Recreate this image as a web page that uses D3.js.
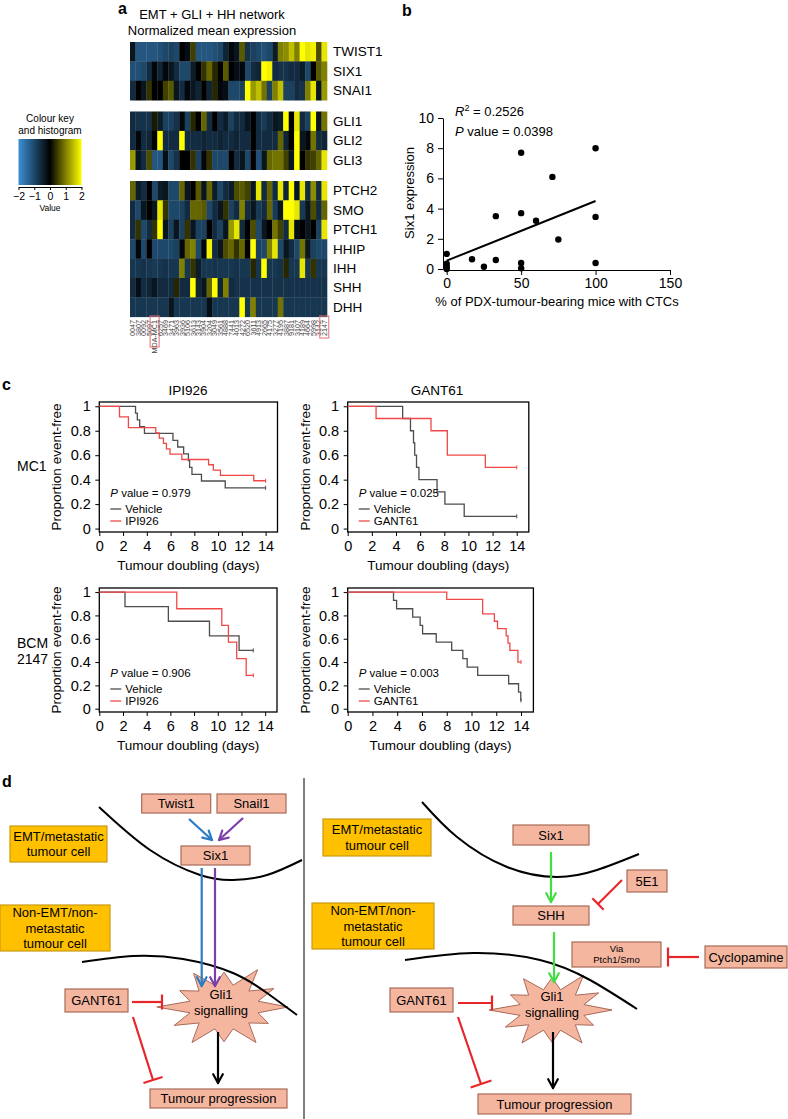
<!DOCTYPE html>
<html><head><meta charset="utf-8">
<script src="https://cdn.jsdelivr.net/npm/d3@7"></script>
<style>body{margin:0;background:#fff}svg{display:block}text{font-family:"Liberation Sans",Arial,Helvetica,sans-serif}</style>
</head><body><svg id="c" width="788" height="1119"></svg>
<script>
// ---------------- DATA ----------------
const genes = ["TWIST1","SIX1","SNAI1","GLI1","GLI2","GLI3","PTCH2","SMO","PTCH1","HHIP","IHH","SHH","DHH"];
const geneBlock = [0,0,0,1,1,1,2,2,2,2,2,2,2];
const samples = ["0047","3807","0092","5097","MDA-MC1","6257","3469","3471","3963","3936","5106","3613","3143","3904","3204","3049","3561","4888","7441","4013","4272","6520","3611","4913","2665","4175","3277","4195","3887","9181","3107","4189","4664","5998","3142","2147"];
const boxedSamples = ["MDA-MC1","2147"];
const exprTWIST1 = [-0.3,-1.2,-1.2,-1.2,-1.2,-1.1,-1.0,-0.9,-1.0,0,-0.2,0.5,-1.2,-1.2,-1.2,-1.1,-1.0,-0.5,-0.1,-0.3,0.7,-0.7,-0.9,-1.0,-1.1,-1.0,-0.4,1.0,1.1,1.5,1.0,2,1.8,1.9,0.6,1.8];
const exprSIX1 = [-1.1,-1.1,-1.0,-0.6,-0.1,-0.5,-0.1,-0.3,-0.6,-1.0,-1.0,-0.4,0,0.4,0.8,0.3,0,0.7,0,-0.2,-0.1,-1.0,-0.6,-0.5,2,1.9,-0.6,-0.7,-0.7,-0.6,-0.6,-0.4,-1.0,0,0.7,1.0];
const exprSNAI1 = [-0.6,0,-0.3,0.4,0,0,0.5,0.7,-0.3,-0.6,-0.1,-0.3,-0.5,0,-0.5,0.3,-0.1,-0.2,-1.0,-1.0,-0.9,2,1.2,1.5,0.9,-0.9,1.0,1.5,-0.9,-0.9,-0.6,-0.7,1.0,1.8,-0.3,1.2];
const exprGLI1 = [-0.6,-0.7,-0.7,-0.7,0.2,-0.4,-0.9,-0.9,-0.7,-0.1,-0.9,0.3,0,0.8,-0.6,0,-0.6,-0.4,-0.9,-0.6,-0.6,-0.3,0,-0.6,-0.8,-0.6,-0.3,-0.4,2,0,1.8,-0.6,-0.9,2,-0.3,0.9];
const exprGLI2 = [-0.6,-0.1,-0.6,-0.5,0,2,-0.6,-0.6,-0.6,2,-0.6,-0.6,-0.6,-0.5,-0.6,-0.6,-0.5,-0.6,-0.6,-0.5,-0.6,-0.6,0,-0.6,-0.6,-0.6,-0.6,0.8,-0.5,0,2,-0.3,-0.1,0.9,-0.6,-0.5];
const exprGLI3 = [1.2,-0.3,-0.6,0.6,-1.2,-1.2,-0.2,-1.0,-0.7,0,0,0.4,-0.9,-0.1,0.4,-1.0,-1.0,-1.0,0,-0.6,-0.3,-1.0,0,-1.1,-0.3,0.8,0.9,0.9,0.5,-0.3,2,0,0.4,0.5,0.8,1.8];
const exprPTCH2 = [0.8,-0.4,-0.6,0,-1.0,-0.4,-0.3,-1.0,-1.0,0.8,-0.3,0,0.7,-0.3,0.8,-0.4,-1.0,-0.6,-0.4,0.6,0.7,0.5,-0.3,1.8,-0.6,0.8,-0.6,1.8,-0.5,2,-0.3,1.8,-0.6,1.1,-0.6,1.8];
const exprSMO = [-0.6,-1.0,-0.3,0,-0.3,1.8,0.4,-1.0,-1.0,-0.9,-0.6,0.8,0.8,0.7,-1.0,-0.6,-0.3,0.4,-0.9,-0.6,1.0,-0.6,-0.3,-0.8,-0.6,0.8,-0.8,-0.3,2,2,1.8,-0.8,-0.3,0.6,-0.6,0.8];
const exprPTCH1 = [-0.6,0.4,-1.0,-0.6,0.4,2,-0.3,-0.9,-0.3,-0.9,0.4,-0.3,-0.9,-0.9,0,-0.6,-0.9,-0.3,1.2,1.8,-0.6,0,0.6,-1.0,-0.3,0,0.9,0.5,-0.6,1.8,-0.2,0,-0.3,0,-0.9,1.8];
const exprHHIP = [-1.0,-0.1,-1.0,0,-1.0,-1.0,-1.0,-1.0,-0.9,-0.1,0.8,1.0,-1.0,-0.1,1.9,-0.6,-0.3,0.6,0.8,0.4,0.8,0,2,-0.9,-1.0,1.0,1.8,-1.0,-0.3,-0.6,-1.0,0.9,-0.3,-0.9,-1.0,-1.0];
const exprIHH = [-0.75,-0.75,-0.7,-0.75,-0.8,-0.75,-0.7,-0.75,-0.75,1.0,-0.75,0.4,-0.4,-0.75,-0.75,-0.7,-0.75,-0.75,-0.75,-0.7,-0.75,-0.75,0.3,-0.75,2,-0.75,-0.75,-0.7,0.3,-0.75,-0.75,1.8,-0.75,0.4,-0.75,-0.75];
const exprSHH = [-0.6,-0.2,-0.6,-0.5,-0.3,-0.6,-0.6,-0.6,0.3,-0.6,-0.6,2,-0.5,-0.3,0.8,2,-0.5,1.0,-0.6,-0.7,-0.7,-0.7,-0.7,-0.7,-0.7,-0.7,-0.7,-0.7,-0.7,-0.7,-0.7,-0.7,-0.7,-0.7,-0.7,-0.7];
const exprDHH = [-0.75,-0.75,-0.75,-0.75,-0.75,-0.75,-0.75,-0.3,-0.75,-0.75,-0.75,-0.75,-0.75,-0.75,-0.2,-0.75,-0.75,-0.75,-0.75,-0.75,2,-0.75,1.0,-0.75,-0.75,-0.75,-0.75,0.9,-0.75,-0.75,-0.75,-0.75,-0.75,-0.75,-0.75,-0.75];
const keyTicks = [-2,-1,0,1,2];

// panel b
const ctcPct = [0,0,0,0,17,25,33,33,50,50,50,50,60,71,75,100,100,100];
const six1Expr = [1.0,0.35,0.15,0.0,0.65,0.15,3.5,0.6,7.7,3.7,0.4,0.05,3.2,6.1,1.95,8.0,3.45,0.4];
const fitX = [0,100];
const fitY = [0.55,4.5];
const scatterXTicks = [0,50,100,150];
const scatterYTicks = [0,2,4,6,8,10];

// panel c (Kaplan-Meier steps)
const kmXTicks = [0,2,4,6,8,10,12,14];
const kmYTicks = [0,0.2,0.4,0.6,0.8,1];
const mc1IpiVehT = [0,3.05,3.2,3.4,3.8,6.2,6.6,7.1,7.5,7.6,7.8,8.6,10.6];
const mc1IpiVehS = [1,0.944,0.889,0.833,0.778,0.722,0.667,0.611,0.556,0.5,0.444,0.389,0.333];
const mc1IpiTrtT = [0,1.7,2.45,4.75,5.05,5.4,5.65,5.95,6.95,9.2,9.6,10.2,13.0];
const mc1IpiTrtS = [1,0.913,0.826,0.783,0.739,0.696,0.652,0.609,0.565,0.522,0.478,0.435,0.391];
const mc1GantVehT = [0,4.55,5.2,5.45,5.55,5.7,5.9,7.4,8.05,9.65];
const mc1GantVehS = [1,0.9,0.8,0.7,0.6,0.5,0.4,0.3,0.2,0.1];
const mc1GantTrtT = [0,2.35,6.9,8.25,11.4];
const mc1GantTrtS = [1,0.9,0.8,0.6,0.5];
const bcmIpiVehT = [0,2.17,5.83,9.3,11.8];
const bcmIpiVehS = [1,0.875,0.75,0.625,0.5];
const bcmIpiTrtT = [0,6.54,10.34,10.9,11.6,12.4];
const bcmIpiTrtS = [1,0.857,0.714,0.571,0.429,0.286];
const bcmGantVehT = [0,3.7,3.95,5.25,5.85,6.05,7.15,8.4,9.3,9.65,10.5,13.0,13.8,13.98];
const bcmGantVehS = [1,0.929,0.857,0.786,0.714,0.643,0.571,0.5,0.429,0.357,0.286,0.214,0.143,0.071];
const bcmGantTrtT = [0,8.0,10.9,11.85,12.1,12.8,12.95,13.1,13.75];
const bcmGantTrtS = [1,0.9375,0.8125,0.75,0.6875,0.625,0.5625,0.5,0.4];
const kmPValues = ["0.979","0.025","0.906","0.003"];

// ---------------- DRAW ----------------
const svg = d3.select("#c");
const PINK_FILL = "#f5b6a0", PINK_STROKE = "#a86a58";

function txt(g, x, y, s, size, opts = {}) {
  const t = g.append("text").attr("x", x).attr("y", y).attr("font-size", size)
    .attr("text-anchor", opts.anchor || "start").attr("fill", opts.fill || "#000");
  if (opts.weight) t.attr("font-weight", opts.weight);
  if (opts.style) t.attr("font-style", opts.style);
  t.text(s);
  return t;
}
// panel letters
txt(svg, 118, 14, "a", 16, {weight: "bold"});
txt(svg, 402, 16, "b", 16, {weight: "bold"});
txt(svg, 2, 390, "c", 16, {weight: "bold"});
txt(svg, 2, 787, "d", 16, {weight: "bold"});

// ---- Panel a heatmap ----
const expr = [exprTWIST1, exprSIX1, exprSNAI1, exprGLI1, exprGLI2, exprGLI3, exprPTCH2, exprSMO, exprPTCH1, exprHHIP, exprIHH, exprSHH, exprDHH];
const colour = d3.scaleLinear().domain([-2, 0, 2]).range(["#3c90d4", "#000000", "#ffff00"]).clamp(true);
const hx = d3.scaleBand().domain(samples).range([130, 327]);
const rowH = 19.4, blockGap = 11.3, hTop = 42;
const hy = (i) => hTop + i * rowH + geneBlock[i] * blockGap;
const ga = svg.append("g");
txt(ga, 212, 19, "EMT + GLI + HH network", 13, {anchor: "middle"});
txt(ga, 212, 35, "Normalized mean expression", 13, {anchor: "middle"});
genes.forEach((gname, i) => {
  ga.selectAll(null).data(expr[i]).enter().append("rect")
    .attr("x", (d, j) => hx(samples[j])).attr("y", hy(i))
    .attr("width", hx.bandwidth() + 0.3).attr("height", rowH + 0.3)
    .attr("fill", d => colour(d));
  txt(ga, 333, hy(i) + rowH / 2 + 4.7, gname, 13.5);
});
// sample labels
samples.forEach(s => {
  const cx = hx(s) + hx.bandwidth() / 2;
  ga.append("text").attr("transform", `translate(${cx + 2.6},320) rotate(-90)`)
    .attr("font-size", 7.2).attr("text-anchor", "end").attr("fill", "#444").text(s);
  if (boxedSamples.includes(s)) {
    const h = s.length > 4 ? 31 : 22;
    ga.append("rect").attr("x", cx - 4.5).attr("y", 316).attr("width", 9).attr("height", h)
      .attr("fill", "none").attr("stroke", "#e87070").attr("stroke-width", 1);
  }
});
// colour key
txt(ga, 50, 122, "Colour key", 10, {anchor: "middle"});
txt(ga, 50, 134, "and histogram", 10, {anchor: "middle"});
const defs = svg.append("defs");
const grad = defs.append("linearGradient").attr("id", "kg");
const kx = d3.scaleLinear().domain([-2, 2]).range([18.5, 81.5]);
d3.range(-2, 2.01, 0.25).forEach(v => grad.append("stop").attr("offset", (v + 2) / 4).attr("stop-color", colour(v)));
ga.append("rect").attr("x", kx(-2)).attr("y", 139).attr("width", kx(2) - kx(-2)).attr("height", 46).attr("fill", "url(#kg)");
const kAxis = ga.append("g").attr("transform", "translate(0,187)")
  .call(d3.axisBottom(kx).tickValues(keyTicks).tickSize(3).tickSizeOuter(0).tickFormat(d => d < 0 ? "\u2212" + Math.abs(d) : d));
kAxis.selectAll("text").attr("font-size", 10.5).attr("fill", "#000").attr("y", 13).attr("dy", 0);
kAxis.selectAll("line,path").attr("stroke", "#000");
txt(ga, 50, 211, "Value", 8.5, {anchor: "middle"});

// ---- Panel b scatter ----
const gb = svg.append("g");
const sx = d3.scaleLinear().domain([0, 150]).range([446.7, 670]);
const sy = d3.scaleLinear().domain([0, 10]).range([269, 118]);
const yAx = gb.append("g").attr("transform", "translate(443,0)")
  .call(d3.axisLeft(sy).tickValues(scatterYTicks).tickSize(5).tickSizeOuter(0));
const xAx = gb.append("g").attr("transform", "translate(0,270)")
  .call(d3.axisBottom(sx).tickValues(scatterXTicks).tickSize(5).tickSizeOuter(0));
[yAx, xAx].forEach(a => { a.selectAll("text").attr("font-size", 14).attr("fill", "#000"); a.selectAll("line,path").attr("stroke", "#000"); });
yAx.selectAll("text").attr("dx", "-1");
gb.selectAll(null).data(ctcPct).enter().append("circle")
  .attr("cx", d => sx(d)).attr("cy", (d, i) => sy(six1Expr[i])).attr("r", 3.2).attr("fill", "#000");
gb.append("line").attr("x1", sx(fitX[0])).attr("y1", sy(fitY[0])).attr("x2", sx(fitX[1])).attr("y2", sy(fitY[1]))
  .attr("stroke", "#000").attr("stroke-width", 2);
const r2 = gb.append("text").attr("x", 455).attr("y", 116).attr("font-size", 13);
r2.append("tspan").attr("font-style", "italic").text("R");
r2.append("tspan").attr("font-size", 9).attr("dy", -5).text("2");
r2.append("tspan").attr("dy", 5).text(" = 0.2526");
const pv = gb.append("text").attr("x", 455).attr("y", 136).attr("font-size", 13);
pv.append("tspan").attr("font-style", "italic").text("P");
pv.append("tspan").text(" value = 0.0398");
gb.append("text").attr("transform", "translate(414,193) rotate(-90)").attr("font-size", 13).attr("text-anchor", "middle").text("Six1 expression");
txt(gb, 557, 306, "% of PDX-tumour-bearing mice with CTCs", 13, {anchor: "middle"});

// ---- Panel c KM ----
const gc = svg.append("g");
const kmPanels = [
  {left: 99.3, right: 277.5, top: 402, bottom: 532, veh: [mc1IpiVehT, mc1IpiVehS], trt: [mc1IpiTrtT, mc1IpiTrtS], end: 14, drug: "IPI926"},
  {left: 347.7, right: 528.8, top: 402, bottom: 532, veh: [mc1GantVehT, mc1GantVehS], trt: [mc1GantTrtT, mc1GantTrtS], end: 14, drug: "GANT61"},
  {left: 99.3, right: 277, top: 588, bottom: 712, veh: [bcmIpiVehT, bcmIpiVehS], trt: [bcmIpiTrtT, bcmIpiTrtS], end: 13.0, drug: "IPI926"},
  {left: 347.7, right: 533.4, top: 588, bottom: 712, veh: [bcmGantVehT, bcmGantVehS], trt: [bcmGantTrtT, bcmGantTrtS], end: 14, drug: "GANT61"}
];
const VEH = "#4d4d4d", TRT = "#f04848";
kmPanels.forEach((p, k) => {
  const g = gc.append("g");
  const x = d3.scaleLinear().domain([0, 15]).range([p.left, p.right]);
  const y = d3.scaleLinear().domain([-0.028, 1.035]).range([p.bottom, p.top]);
  const ya = g.append("g").attr("transform", `translate(${p.left},0)`)
    .call(d3.axisLeft(y).tickValues(kmYTicks).tickSize(4).tickFormat(d => d3.format("~g")(d)));
  const xa = g.append("g").attr("transform", `translate(0,${p.bottom})`)
    .call(d3.axisBottom(x).tickValues(kmXTicks).tickSize(4));
  [ya, xa].forEach(a => { a.select(".domain").remove(); a.selectAll("text").attr("font-size", 14.5).attr("fill", "#000"); a.selectAll("line").attr("stroke", "#000"); });
  ya.selectAll("text").attr("dx", "-1.5");
  xa.selectAll("text").attr("y", 8).attr("dy", "0.78em");
  g.append("rect").attr("x", p.left).attr("y", p.top).attr("width", p.right - p.left).attr("height", p.bottom - p.top)
    .attr("fill", "none").attr("stroke", "#000").attr("stroke-width", 1.3);
  const line = d3.line().x(d => x(d[0])).y(d => y(d[1])).curve(d3.curveStepAfter);
  [[p.veh, VEH], [p.trt, TRT]].forEach(([c, col]) => {
    const pts = c[0].map((t, i) => [t, c[1][i]]);
    const last = c[1][c[1].length - 1];
    pts.push([p.end, last]);
    g.append("path").attr("d", line(pts)).attr("fill", "none").attr("stroke", col).attr("stroke-width", 1.3);
    g.append("line").attr("x1", x(p.end)).attr("x2", x(p.end)).attr("y1", y(last) - 2).attr("y2", y(last) + 2).attr("stroke", col).attr("stroke-width", 1);
  });
  // legend
  const lx = p.left + 11, ly = p.bottom;
  const t = g.append("text").attr("x", lx).attr("y", ly - 35).attr("font-size", 11.5);
  t.append("tspan").attr("font-style", "italic").text("P");
  t.append("tspan").text(" value = " + kmPValues[k]);
  g.append("line").attr("x1", lx).attr("x2", lx + 11).attr("y1", ly - 23).attr("y2", ly - 23).attr("stroke", VEH).attr("stroke-width", 1.3);
  txt(g, lx + 15, ly - 19, "Vehicle", 11.5);
  g.append("line").attr("x1", lx).attr("x2", lx + 11).attr("y1", ly - 11).attr("y2", ly - 11).attr("stroke", TRT).attr("stroke-width", 1.3);
  txt(g, lx + 15, ly - 7, p.drug, 11.5);
  // axis titles
  g.append("text").attr("transform", `translate(${p.left - 38},${(p.top + p.bottom) / 2}) rotate(-90)`)
    .attr("font-size", 13.5).attr("text-anchor", "middle").text("Proportion event-free");
  txt(g, (x(0) + x(15)) / 2, p.bottom + 38, "Tumour doubling (days)", 13.5, {anchor: "middle"});
});
txt(gc, 188, 395, "IPI926", 13.5, {anchor: "middle"});
txt(gc, 437, 395, "GANT61", 13.5, {anchor: "middle"});
txt(gc, 17, 471, "MC1", 14);
txt(gc, 17, 648, "BCM", 14);
txt(gc, 17, 664, "2147", 14);

// ---- Panel d diagram ----
const gd = svg.append("g");
gd.append("line").attr("x1", 304).attr("x2", 304).attr("y1", 778).attr("y2", 1119).attr("stroke", "#000").attr("stroke-width", 1);
const curve = d3.line().curve(d3.curveNatural);
const membranes = [
  [[99, 807], [150, 850], [200, 875], [233, 880], [267, 875], [302, 860]],
  [[422, 802], [457, 837], [507, 867], [557, 877], [597, 870], [639, 854]]
];
const membranes2 = [
  [[82, 962], [133, 956], [183, 959], [233, 973], [267, 993], [297, 1015]],
  [[405, 960], [473, 953], [540, 960], [590, 980], [637, 1009]]
];
membranes.forEach(m => gd.append("path").attr("d", curve(m)).attr("fill", "none").attr("stroke", "#000").attr("stroke-width", 2));

function starPath(cx, cy, rx, ry, n, inner, jitter) {
  const pts = [];
  for (let i = 0; i < n * 2; i++) {
    const a = -Math.PI / 2 + i * Math.PI / n;
    const f = i % 2 === 0 ? jitter[(i / 2) % jitter.length] : inner;
    pts.push([cx + Math.cos(a) * rx * f, cy + Math.sin(a) * ry * f]);
  }
  return d3.line().curve(d3.curveLinearClosed)(pts);
}
const jit = [0.85, 1.05, 0.9, 1.0, 0.8, 1.0, 0.85, 1.0, 0.9, 1.05, 0.8, 0.95];
gd.append("path").attr("d", starPath(224, 1007, 64, 41, 12, 0.55, jit)).attr("fill", PINK_FILL).attr("stroke", PINK_STROKE).attr("stroke-width", 1);
gd.append("path").attr("d", starPath(552, 1010, 60, 38, 12, 0.55, jit)).attr("fill", PINK_FILL).attr("stroke", PINK_STROKE).attr("stroke-width", 1);
membranes2.forEach(m => gd.append("path").attr("d", curve(m)).attr("fill", "none").attr("stroke", "#000").attr("stroke-width", 2));

function box(x, y, w, h, lines, opts = {}) {
  gd.append("rect").attr("x", x).attr("y", y).attr("width", w).attr("height", h)
    .attr("fill", opts.fill || PINK_FILL).attr("stroke", opts.stroke || PINK_STROKE).attr("stroke-width", 1.2);
  const fs = opts.size || 13, lh = opts.lh || 15.5;
  lines.forEach((l, i) => {
    txt(gd, x + w / 2, y + h / 2 + (i - (lines.length - 1) / 2) * lh + fs * 0.36, l, fs, {anchor: "middle"});
  });
}
function arrow(x1, y1, x2, y2, col, w = 2.2) {
  gd.append("line").attr("x1", x1).attr("y1", y1).attr("x2", x2).attr("y2", y2).attr("stroke", col).attr("stroke-width", w);
  const a = Math.atan2(y2 - y1, x2 - x1), L = 10;
  [0.5, -0.5].forEach(s => gd.append("line").attr("x1", x2).attr("y1", y2)
    .attr("x2", x2 - L * Math.cos(a + s)).attr("y2", y2 - L * Math.sin(a + s)).attr("stroke", col).attr("stroke-width", w).attr("stroke-linecap", "round"));
}
function inhibit(x1, y1, x2, y2, half, col = "#e8262a", w = 2.2) {
  gd.append("line").attr("x1", x1).attr("y1", y1).attr("x2", x2).attr("y2", y2).attr("stroke", col).attr("stroke-width", w);
  const a = Math.atan2(y2 - y1, x2 - x1) + Math.PI / 2;
  gd.append("line").attr("x1", x2 - half * Math.cos(a)).attr("y1", y2 - half * Math.sin(a))
    .attr("x2", x2 + half * Math.cos(a)).attr("y2", y2 + half * Math.sin(a)).attr("stroke", col).attr("stroke-width", w);
}
const ORANGE = {fill: "#ffc000", stroke: "#c99a10"};
// left side
box(10, 826, 97, 36, ["EMT/metastatic", "tumour cell"], ORANGE);
box(0, 905, 110, 46, ["Non-EMT/non-", "metastatic", "tumour cell"], ORANGE);
box(141.7, 794, 69, 19, ["Twist1"]);
box(217, 794, 69, 19, ["Snail1"]);
box(181, 846, 69, 19, ["Six1"]);
box(65, 989, 63, 23, ["GANT61"]);
box(150, 1089, 137, 19, ["Tumour progression"]);
arrow(189, 819, 212, 840, "#2b7bc4");
arrow(243, 818, 219, 840, "#7b3fa8");
arrow(201.7, 868, 201.7, 986, "#2b7bc4");
arrow(215, 868, 215, 986, "#7b3fa8");
arrow(218, 1032, 218, 1083, "#000");
inhibit(132, 1002, 162, 1002, 7.5);
inhibit(133, 1017, 153, 1080, 10);
txt(gd, 221, 999, "Gli1", 13, {anchor: "middle"});
txt(gd, 221, 1015, "signalling", 13, {anchor: "middle"});
// right side
box(323, 819, 108, 37, ["EMT/metastatic", "tumour cell"], ORANGE);
box(312, 903, 122, 46, ["Non-EMT/non-", "metastatic", "tumour cell"], ORANGE);
box(513, 825, 76, 20, ["Six1"]);
box(627, 870, 40, 22, ["5E1"]);
box(513, 906, 76, 19, ["SHH"]);
box(572, 942, 89, 25, ["Via", "Ptch1/Smo"], {size: 9.5, lh: 11});
box(705, 946, 82, 22, ["Cyclopamine"]);
box(390, 988, 63, 24, ["GANT61"]);
box(478, 1094, 153, 20, ["Tumour progression"]);
arrow(551, 852, 551, 902, "#44dd44");
arrow(554, 932, 554, 982, "#44dd44");
arrow(553, 1032, 553, 1088, "#000");
inhibit(622, 880, 598, 904, 8);
inhibit(699, 957, 668, 957, 9.5);
inhibit(458, 1003, 492, 1003, 7.5);
inhibit(458, 1017, 481, 1084, 11);
txt(gd, 552, 1001, "Gli1", 13, {anchor: "middle"});
txt(gd, 552, 1017, "signalling", 13, {anchor: "middle"});
</script></body></html>
